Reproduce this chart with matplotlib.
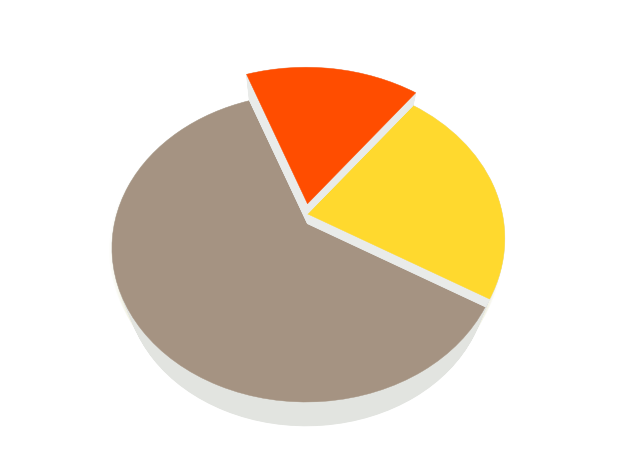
import numpy as np
import matplotlib
matplotlib.use("Agg")
import matplotlib.pyplot as plt
from matplotlib.path import Path
from matplotlib.transforms import Transform

labels = ["Yellow", "Red", "Brown"]
values = [23, 16, 61]
top_colors = ["#ffd92e", "#ff4d00", "#a59382"]
low_wall = "#e2e4e0"
high_wall = "#e9ebe9"
levels = [1, 2, 0]  # height step of each slice

START = -30.6
CX, CY, A, B, Q, VY = 306.0, 249.0, 194.0, 154.0, 0.156, 629.0


def layer(h):
    if h >= 0:
        return 1 + 0.025 * h, 0.0
    return 1 + 0.07 * h, -8.0 * h


class Persp(Transform):
    input_dims = 2
    output_dims = 2
    is_affine = False
    has_inverse = False

    def __init__(self, h, grow=1.0):
        super().__init__()
        self.k, self.dy = layer(h)
        self.k *= grow

    def transform_non_affine(self, xy):
        xy = np.asarray(xy, float)
        x, y = xy[:, 0], xy[:, 1]
        d = 1 + Q * y
        u = x * np.sqrt(1 - Q * Q) / d
        v = (y + Q) / d
        X = CX + A * u + 1.5 * (1 - u * u - v * v)
        Y = CY - B * v
        Xo = 307 + self.k * (X - 307)
        Yo = VY + self.k * (Y - VY) + self.dy
        return np.column_stack([Xo, Yo])

    def transform_path_non_affine(self, path):
        return Path(self.transform_non_affine(path.vertices), path.codes)


fig = plt.figure(figsize=(6.36, 4.77), dpi=100, facecolor="white")
ax = fig.add_axes([0, 0, 1, 1])


def draw(h, colors, z, alpha=None, grow=1.0, lw=0.6):
    wedges, _ = ax.pie(values, startangle=START, counterclock=True,
                       colors=colors,
                       wedgeprops=dict(linewidth=lw, alpha=alpha))
    for w, c, lv in zip(wedges, colors, levels):
        w.set_transform(Persp(h, grow) + ax.transData)
        w.set_edgecolor(c)
        w.set_facecolor(c)
        w.set_zorder(z)
        if lv < h - 1e-9:
            w.set_visible(False)


# faint ground shadow
for g in np.linspace(1.09, 1.0, 10):
    draw(-1, ["#eeeed6"] * 3, 0.5, alpha=0.14, grow=g, lw=0)

# walls and tops, painted from the ground up
STEPS = 25
for i in range(3 * STEPS + 1):
    h = -1 + i / STEPS
    wall = low_wall if h <= 0 else high_wall
    draw(h, [wall] * 3, 1 + i)
    if i % STEPS == 0 and i >= STEPS:
        cols = [c if lv == i // STEPS - 1 else wall
                for c, lv in zip(top_colors, levels)]
        draw(h, cols, 1.5 + i, lw=0.3)

ax.set_aspect("auto")
ax.set_xlim(0, 636)
ax.set_ylim(477, 0)
ax.axis("off")
fig.savefig("out.png", dpi=100, facecolor="white")
